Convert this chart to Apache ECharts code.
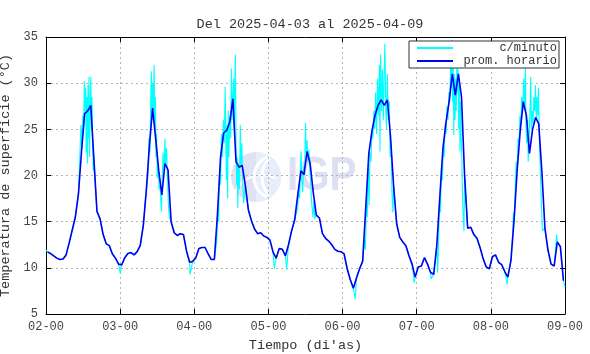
<!DOCTYPE html>
<html>
<head>
<meta charset="utf-8">
<title>Temperatura de superficie</title>
<script src="https://cdn.jsdelivr.net/npm/echarts@6/dist/echarts.min.js"></script>
<style>
  html, body { margin: 0; padding: 0; background: #fff; }
  #chart { width: 590px; height: 354px; }
</style>
</head>
<body>
<div id="chart"></div>
<script>
// promedio horario: un valor por hora (00..23) de cada dia
var hourly1 = [11.7, 11.55, 11.3, 11.05, 10.9, 10.95, 11.4, 12.7, 14.1, 15.5, 18.0, 22.6, 26.7, 27.0, 27.6, 21.8, 16.1, 15.3, 13.6, 12.6, 12.4, 11.5, 11.05, 10.4];
var hourly2 = [10.3, 11.1, 11.55, 11.65, 11.4, 11.75, 12.4, 14.6, 18.5, 23.3, 27.3, 24.0, 20.5, 17.9, 21.3, 20.6, 15.0, 13.8, 13.5, 13.7, 13.6, 11.8, 10.6, 10.7];
var hourly3 = [11.1, 12.1, 12.2, 12.2, 11.5, 10.9, 10.9, 15.8, 22.0, 24.6, 24.9, 25.8, 28.3, 21.5, 20.9, 21.1, 19.0, 16.3, 15.1, 14.2, 13.7, 13.8, 13.45, 13.3];
var hourly4 = [13.0, 11.7, 11.05, 12.1, 12.0, 11.3, 12.5, 14.0, 15.2, 17.9, 20.5, 20.1, 22.6, 21.3, 18.2, 15.7, 15.4, 13.7, 13.2, 12.9, 12.5, 12.0, 11.8, 11.75];
var hourly5 = [11.5, 9.9, 8.7, 7.8, 8.9, 9.9, 10.7, 16.5, 22.4, 24.8, 26.5, 27.6, 28.2, 27.6, 28.2, 24.3, 19.0, 14.8, 13.3, 12.8, 12.4, 11.3, 10.4, 9.0];
var hourly6 = [10.1, 10.2, 11.1, 10.4, 9.5, 9.3, 12.4, 17.8, 23.0, 25.8, 28.0, 31.0, 28.7, 31.0, 28.5, 20.0, 14.3, 14.4, 13.6, 13.2, 12.2, 11.0, 10.1, 9.9];
var hourly7 = [11.2, 11.4, 10.6, 10.35, 9.6, 9.0, 10.8, 15.1, 20.5, 24.8, 28.0, 26.5, 22.4, 25.0, 26.3, 25.6, 20.5, 14.3, 11.9, 10.4, 10.2, 12.8, 12.3, 8.6];

// c/minuto: tramos diurnos con mucha variacion, [hora del dia, valor]
var minute1 = [[11.0, 22.5], [11.3, 25.5], [11.6, 23.0], [11.9, 26.5], [12.2, 25.0], [12.4, 30.2], [12.6, 27.0], [12.8, 29.5], [13.0, 22.5], [13.2, 28.5], [13.4, 21.3], [13.6, 29.8], [13.8, 24.0], [13.9, 30.7], [14.1, 22.0], [14.3, 27.5], [14.5, 30.7], [14.7, 25.0], [14.9, 28.5], [15.1, 23.0], [15.3, 20.5]];
var minute2 = [[9.0, 20.0], [9.3, 24.0], [9.6, 22.5], [9.9, 28.0], [10.1, 31.3], [10.3, 26.0], [10.5, 30.0], [10.7, 27.0], [11.0, 32.0], [11.2, 25.0], [11.4, 28.5], [11.6, 22.0], [11.8, 24.5], [12.0, 19.7], [12.3, 21.0], [12.6, 18.5], [12.9, 19.0], [13.2, 17.0], [13.4, 16.1], [13.6, 19.5], [13.9, 22.5], [14.2, 20.5], [14.5, 24.0], [14.7, 21.0], [15.0, 23.0], [15.3, 20.0], [15.6, 17.0], [15.9, 15.5]];
var minute3 = [[7.3, 13.0], [7.6, 16.5], [7.9, 15.0], [8.2, 21.0], [8.5, 19.0], [8.8, 24.5], [9.1, 22.0], [9.4, 26.0], [9.7, 23.5], [10.0, 29.6], [10.2, 24.0], [10.4, 19.5], [10.6, 25.5], [10.8, 17.5], [11.0, 27.0], [11.2, 22.0], [11.5, 26.5], [11.8, 24.0], [12.0, 31.6], [12.2, 26.0], [12.5, 29.0], [12.7, 30.5], [12.9, 25.0], [13.1, 29.5], [13.3, 33.1], [13.5, 24.0], [13.7, 19.0], [13.9, 22.0], [14.1, 16.5], [14.3, 21.0], [14.6, 18.5], [14.9, 25.5], [15.1, 21.0], [15.4, 23.5], [15.7, 19.0], [16.0, 17.0]];
var minute4 = [[9.5, 16.5], [9.8, 19.0], [10.1, 17.5], [10.4, 21.5], [10.6, 22.6], [10.8, 19.5], [11.1, 18.2], [11.4, 21.0], [11.7, 20.0], [12.0, 25.7], [12.2, 22.5], [12.5, 23.8], [12.8, 21.5], [13.1, 22.8], [13.4, 20.5], [13.7, 19.0], [14.0, 17.0], [14.4, 15.5], [14.7, 17.2], [15.0, 15.3]];
var minute5 = [[6.8, 10.5], [7.1, 13.0], [7.4, 12.0], [7.7, 17.0], [8.0, 15.5], [8.3, 21.0], [8.6, 16.8], [8.9, 22.5], [9.2, 21.5], [9.5, 25.0], [9.8, 24.0], [10.1, 27.0], [10.4, 25.0], [10.7, 29.0], [11.0, 24.5], [11.3, 30.5], [11.6, 26.5], [11.9, 32.0], [12.1, 22.6], [12.3, 33.1], [12.6, 27.0], [12.9, 31.5], [13.2, 26.0], [13.4, 30.0], [13.7, 34.3], [14.0, 27.0], [14.2, 25.0], [14.5, 31.0], [14.8, 26.0], [15.1, 28.0], [15.4, 22.0], [15.7, 23.5], [16.0, 18.0], [16.3, 16.0]];
var minute6 = [[6.8, 9.5], [7.1, 13.0], [7.4, 17.5], [7.7, 16.0], [8.0, 21.0], [8.3, 19.5], [8.6, 23.0], [8.9, 22.0], [9.2, 25.5], [9.5, 24.5], [9.8, 27.5], [10.1, 26.0], [10.4, 29.0], [10.7, 28.0], [11.0, 32.5], [11.2, 29.5], [11.4, 34.7], [11.6, 28.0], [11.8, 33.0], [12.0, 24.4], [12.2, 31.0], [12.4, 26.0], [12.6, 30.5], [12.8, 27.0], [13.0, 32.0], [13.2, 29.0], [13.4, 31.5], [13.6, 25.0], [13.8, 30.0], [14.0, 22.6], [14.2, 28.0], [14.4, 24.0], [14.6, 22.0], [14.8, 18.0], [15.0, 16.0], [15.3, 14.0]];
var minute7 = [[7.0, 13.5], [7.3, 16.0], [7.6, 15.0], [7.9, 19.0], [8.2, 21.5], [8.5, 20.5], [8.8, 24.0], [9.1, 23.5], [9.4, 26.5], [9.7, 25.5], [10.0, 28.5], [10.3, 27.0], [10.6, 30.5], [10.9, 27.5], [11.2, 31.8], [11.4, 25.0], [11.6, 23.5], [11.9, 26.0], [12.1, 21.5], [12.4, 24.0], [12.7, 27.5], [12.9, 30.7], [13.1, 25.0], [13.4, 27.0], [13.7, 25.5], [13.9, 28.5], [14.2, 27.0], [14.4, 29.8], [14.7, 26.0], [14.9, 28.5], [15.2, 26.5], [15.4, 29.5], [15.7, 24.0], [16.0, 20.5], [16.4, 16.5], [16.7, 14.0]];
// c/minuto: picos sueltos de la noche, [dia, hora, valor]
var minuteNight = [[0, 0.0, 11.9], [1, 0.0, 9.4], [1, 22.6, 9.3], [3, 1.9, 9.9], [3, 5.9, 9.8], [4, 4.1, 6.6], [4, 23.2, 8.4], [5, 4.6, 8.8], [6, 5.3, 8.2], [6, 21.3, 13.6], [6, 24.0, 7.9]];

var xTickLabels = ['02-00', '03-00', '04-00', '05-00', '06-00', '07-00', '08-00', '09-00'];
var firstDay = 2;
var mono = '"Liberation Mono", "DejaVu Sans Mono", monospace';

var hourlyDays = [hourly1, hourly2, hourly3, hourly4, hourly5, hourly6, hourly7];
var minuteDays = [minute1, minute2, minute3, minute4, minute5, minute6, minute7];
var hourlyData = [];
var minuteData = [];
hourlyDays.forEach(function (vals, d) {
  var spikes = minuteDays[d];
  var from = spikes[0][0];
  var to = spikes[spikes.length - 1][0];
  vals.forEach(function (v, h) {
    var t = firstDay + d + (h + 0.5) / 24;
    hourlyData.push([t, v]);
    if (h + 0.5 < from || h + 0.5 > to) {
      minuteData.push([t, v]);
    }
  });
  spikes.forEach(function (p) {
    minuteData.push([firstDay + d + p[0] / 24, p[1]]);
  });
});
minuteNight.forEach(function (p) {
  minuteData.push([firstDay + p[0] + p[1] / 24, p[2]]);
});
minuteData.sort(function (a, b) { return a[0] - b[0]; });

var chart = echarts.init(document.getElementById('chart'));
var gridLine = { show: true, lineStyle: { color: '#b4b4b4', width: 1, type: [2, 3] } };
var frame = { show: true, onZero: false, lineStyle: { color: '#000', width: 1 } };
var tick = { show: true, inside: true, length: 5, lineStyle: { color: '#000' } };

var option = {
  animation: false,
  backgroundColor: '#fff',
  title: {
    text: 'Del 2025-04-03 al 2025-04-09',
    left: 305,
    top: 12,
    textAlign: 'center',
    textStyle: { fontFamily: mono, fontSize: 13.5, fontWeight: 'normal', color: '#333' }
  },
  grid: { left: 46, right: 25, top: 37, bottom: 40, containLabel: false, outerBoundsMode: 'none' },
  legend: {
    orient: 'vertical',
    left: 409,
    top: 41,
    padding: [1, 2, 1, 7],
    itemGap: 1,
    itemWidth: 36,
    itemHeight: 12,
    backgroundColor: '#fff',
    borderColor: '#333',
    borderWidth: 1,
    itemStyle: { opacity: 0 },
    data: ['c/minuto', 'prom. horario'],
    formatter: function (name) { return '{r|' + name + '}'; },
    textStyle: {
      fontFamily: mono, fontSize: 12, color: '#333',
      rich: { r: { width: 99, align: 'right', fontFamily: mono, fontSize: 12, lineHeight: 12, color: '#333' } }
    }
  },
  graphic: {
    elements: [
      { type: 'circle', z: -1, silent: true, shape: { cx: 256, cy: 177, r: 25 }, style: { fill: '#dfe2f5' } },
      { type: 'sector', z: -1, silent: true, shape: { cx: 256, cy: 177, r: 25, startAngle: -Math.PI / 2, endAngle: Math.PI / 2 }, style: { fill: '#e6edfc' } },
      { type: 'arc', z: -1, silent: true, shape: { cx: 276, cy: 177, r: 22, startAngle: 2.0, endAngle: 4.3 }, style: { stroke: '#fff', lineWidth: 3, fill: null } },
      { type: 'arc', z: -1, silent: true, shape: { cx: 290, cy: 177, r: 28, startAngle: 2.4, endAngle: 3.9 }, style: { stroke: '#fff', lineWidth: 3, fill: null } },
      { type: 'arc', z: -1, silent: true, shape: { cx: 262, cy: 205, r: 30, startAngle: 3.6, endAngle: 5.2 }, style: { stroke: '#fff', lineWidth: 2, fill: null } },
      {
        type: 'text', z: -1, silent: true, x: 287, y: 153, scaleX: 0.84,
        style: { text: 'IGP', fill: '#dedff3', font: 'bold 48px "Liberation Sans", sans-serif' }
      }
    ]
  },
  xAxis: [
    {
      type: 'value', position: 'bottom', min: 2, max: 9, interval: 1,
      name: 'Tiempo (di\'as)', nameLocation: 'middle', nameGap: 24,
      nameTextStyle: { fontFamily: mono, fontSize: 13.5, color: '#333' },
      axisLine: frame, axisTick: tick, splitLine: gridLine,
      axisLabel: {
        margin: 7, fontFamily: mono, fontSize: 12, color: '#444',
        formatter: function (v) { return xTickLabels[Math.round(v - firstDay)]; }
      }
    },
    {
      type: 'value', position: 'top', min: 2, max: 9, interval: 1,
      axisLine: frame, axisTick: tick, axisLabel: { show: false }, splitLine: { show: false }
    }
  ],
  yAxis: [
    {
      type: 'value', position: 'left', min: 5, max: 35, interval: 5,
      name: 'Temperatura de superficie (°C)', nameLocation: 'middle', nameGap: 24,
      nameTextStyle: { fontFamily: mono, fontSize: 13.5, color: '#333' },
      axisLine: frame, axisTick: tick, splitLine: gridLine,
      axisLabel: { margin: 8, fontFamily: mono, fontSize: 12, color: '#444' }
    },
    {
      type: 'value', position: 'right', min: 5, max: 35, interval: 5,
      axisLine: frame, axisTick: tick, axisLabel: { show: false }, splitLine: { show: false }
    }
  ],
  series: [
    {
      name: 'c/minuto',
      type: 'line',
      data: minuteData,
      symbol: 'none',
      z: 2,
      lineStyle: { color: '#00ffff', width: 1.1 },
      itemStyle: { color: '#00ffff' }
    },
    {
      name: 'prom. horario',
      type: 'line',
      data: hourlyData,
      symbol: 'none',
      z: 3,
      lineStyle: { color: '#0000f0', width: 1.6 },
      itemStyle: { color: '#0000f0' }
    }
  ]
};
chart.setOption(option);
</script>
</body>
</html>
